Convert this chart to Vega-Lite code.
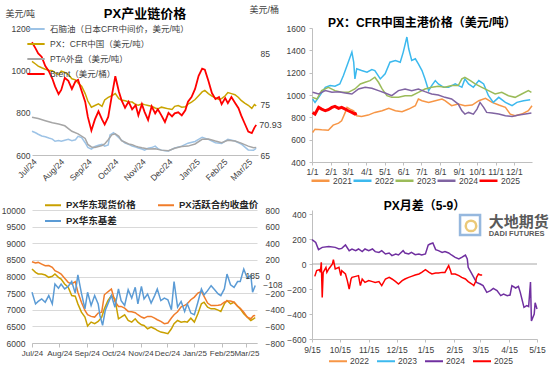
{
"$schema":"https://vega.github.io/schema/vega-lite/v6.json",
"padding":{"left":1,"top":5,"right":5,"bottom":5},
"datasets":{
"A":[
{"s":"N","d":"2024-07-01","v":712},{"s":"N","d":"2024-07-05","v":705},{"s":"N","d":"2024-07-08","v":698},{"s":"N","d":"2024-07-12","v":690},{"s":"N","d":"2024-07-16","v":686},{"s":"N","d":"2024-07-20","v":680},{"s":"N","d":"2024-07-24","v":675},{"s":"N","d":"2024-07-27","v":665},{"s":"N","d":"2024-07-31","v":668},{"s":"N","d":"2024-08-03","v":665},{"s":"N","d":"2024-08-07","v":670},{"s":"N","d":"2024-08-11","v":674},{"s":"N","d":"2024-08-15","v":668},{"s":"N","d":"2024-08-19","v":672},{"s":"N","d":"2024-08-22","v":688},{"s":"N","d":"2024-08-26","v":682},{"s":"N","d":"2024-08-30","v":658},{"s":"N","d":"2024-09-02","v":636},{"s":"N","d":"2024-09-06","v":628},{"s":"N","d":"2024-09-10","v":640},{"s":"N","d":"2024-09-14","v":646},{"s":"N","d":"2024-09-18","v":650},{"s":"N","d":"2024-09-21","v":642},{"s":"N","d":"2024-09-25","v":648},{"s":"N","d":"2024-09-27","v":695},{"s":"N","d":"2024-10-01","v":705},{"s":"N","d":"2024-10-07","v":682},{"s":"N","d":"2024-10-10","v":670},{"s":"N","d":"2024-10-14","v":656},{"s":"N","d":"2024-10-18","v":650},{"s":"N","d":"2024-10-22","v":642},{"s":"N","d":"2024-10-26","v":638},{"s":"N","d":"2024-10-29","v":633},{"s":"N","d":"2024-11-02","v":628},{"s":"N","d":"2024-11-05","v":623},{"s":"N","d":"2024-11-09","v":632},{"s":"N","d":"2024-11-13","v":635},{"s":"N","d":"2024-11-17","v":642},{"s":"N","d":"2024-11-20","v":630},{"s":"N","d":"2024-11-24","v":623},{"s":"N","d":"2024-11-28","v":620},{"s":"N","d":"2024-12-02","v":619},{"s":"N","d":"2024-12-09","v":633},{"s":"N","d":"2024-12-17","v":642},{"s":"N","d":"2024-12-24","v":656},{"s":"N","d":"2025-01-01","v":664},{"s":"N","d":"2025-01-09","v":684},{"s":"N","d":"2025-01-16","v":674},{"s":"N","d":"2025-01-24","v":658},{"s":"N","d":"2025-01-31","v":655},{"s":"N","d":"2025-02-07","v":674},{"s":"N","d":"2025-02-15","v":666},{"s":"N","d":"2025-02-22","v":652},{"s":"N","d":"2025-03-02","v":624},{"s":"N","d":"2025-03-08","v":622},{"s":"N","d":"2025-03-11","v":632},
{"s":"PTA","d":"2024-07-01","v":778},{"s":"PTA","d":"2024-07-08","v":772},{"s":"PTA","d":"2024-07-16","v":762},{"s":"PTA","d":"2024-07-24","v":752},{"s":"PTA","d":"2024-07-31","v":746},{"s":"PTA","d":"2024-08-07","v":738},{"s":"PTA","d":"2024-08-15","v":712},{"s":"PTA","d":"2024-08-22","v":700},{"s":"PTA","d":"2024-08-30","v":678},{"s":"PTA","d":"2024-09-02","v":650},{"s":"PTA","d":"2024-09-06","v":638},{"s":"PTA","d":"2024-09-10","v":635},{"s":"PTA","d":"2024-09-14","v":640},{"s":"PTA","d":"2024-09-18","v":645},{"s":"PTA","d":"2024-09-21","v":652},{"s":"PTA","d":"2024-09-25","v":672},{"s":"PTA","d":"2024-09-29","v":695},{"s":"PTA","d":"2024-10-03","v":700},{"s":"PTA","d":"2024-10-07","v":688},{"s":"PTA","d":"2024-10-10","v":668},{"s":"PTA","d":"2024-10-14","v":660},{"s":"PTA","d":"2024-10-18","v":652},{"s":"PTA","d":"2024-10-22","v":648},{"s":"PTA","d":"2024-10-26","v":642},{"s":"PTA","d":"2024-10-29","v":638},{"s":"PTA","d":"2024-11-02","v":634},{"s":"PTA","d":"2024-11-09","v":628},{"s":"PTA","d":"2024-11-17","v":630},{"s":"PTA","d":"2024-11-24","v":623},{"s":"PTA","d":"2024-12-02","v":620},{"s":"PTA","d":"2024-12-09","v":632},{"s":"PTA","d":"2024-12-17","v":640},{"s":"PTA","d":"2024-12-24","v":642},{"s":"PTA","d":"2025-01-01","v":652},{"s":"PTA","d":"2025-01-09","v":674},{"s":"PTA","d":"2025-01-16","v":676},{"s":"PTA","d":"2025-01-24","v":666},{"s":"PTA","d":"2025-01-31","v":658},{"s":"PTA","d":"2025-02-07","v":670},{"s":"PTA","d":"2025-02-15","v":666},{"s":"PTA","d":"2025-02-22","v":656},{"s":"PTA","d":"2025-03-02","v":642},{"s":"PTA","d":"2025-03-08","v":634},{"s":"PTA","d":"2025-03-11","v":636},
{"s":"PX","d":"2024-07-01","v":1042},{"s":"PX","d":"2024-07-05","v":1030},{"s":"PX","d":"2024-07-08","v":1020},{"s":"PX","d":"2024-07-12","v":1012},{"s":"PX","d":"2024-07-16","v":1005},{"s":"PX","d":"2024-07-20","v":1000},{"s":"PX","d":"2024-07-24","v":998},{"s":"PX","d":"2024-07-27","v":988},{"s":"PX","d":"2024-07-31","v":980},{"s":"PX","d":"2024-08-03","v":996},{"s":"PX","d":"2024-08-07","v":990},{"s":"PX","d":"2024-08-11","v":980},{"s":"PX","d":"2024-08-15","v":960},{"s":"PX","d":"2024-08-19","v":955},{"s":"PX","d":"2024-08-22","v":940},{"s":"PX","d":"2024-08-26","v":925},{"s":"PX","d":"2024-08-30","v":890},{"s":"PX","d":"2024-09-02","v":855},{"s":"PX","d":"2024-09-06","v":826},{"s":"PX","d":"2024-09-10","v":834},{"s":"PX","d":"2024-09-14","v":842},{"s":"PX","d":"2024-09-18","v":830},{"s":"PX","d":"2024-09-21","v":860},{"s":"PX","d":"2024-09-25","v":872},{"s":"PX","d":"2024-09-29","v":880},{"s":"PX","d":"2024-10-03","v":890},{"s":"PX","d":"2024-10-07","v":866},{"s":"PX","d":"2024-10-10","v":860},{"s":"PX","d":"2024-10-14","v":856},{"s":"PX","d":"2024-10-18","v":852},{"s":"PX","d":"2024-10-22","v":850},{"s":"PX","d":"2024-10-26","v":838},{"s":"PX","d":"2024-10-29","v":835},{"s":"PX","d":"2024-11-02","v":842},{"s":"PX","d":"2024-11-05","v":838},{"s":"PX","d":"2024-11-09","v":834},{"s":"PX","d":"2024-11-13","v":830},{"s":"PX","d":"2024-11-17","v":822},{"s":"PX","d":"2024-11-20","v":818},{"s":"PX","d":"2024-11-24","v":826},{"s":"PX","d":"2024-11-28","v":822},{"s":"PX","d":"2024-12-02","v":818},{"s":"PX","d":"2024-12-06","v":815},{"s":"PX","d":"2024-12-09","v":830},{"s":"PX","d":"2024-12-13","v":834},{"s":"PX","d":"2024-12-17","v":826},{"s":"PX","d":"2024-12-21","v":828},{"s":"PX","d":"2024-12-24","v":840},{"s":"PX","d":"2024-12-28","v":850},{"s":"PX","d":"2025-01-01","v":862},{"s":"PX","d":"2025-01-05","v":880},{"s":"PX","d":"2025-01-09","v":898},{"s":"PX","d":"2025-01-12","v":905},{"s":"PX","d":"2025-01-16","v":890},{"s":"PX","d":"2025-01-20","v":878},{"s":"PX","d":"2025-01-24","v":870},{"s":"PX","d":"2025-01-28","v":862},{"s":"PX","d":"2025-01-31","v":866},{"s":"PX","d":"2025-02-04","v":880},{"s":"PX","d":"2025-02-07","v":895},{"s":"PX","d":"2025-02-11","v":890},{"s":"PX","d":"2025-02-15","v":885},{"s":"PX","d":"2025-02-19","v":872},{"s":"PX","d":"2025-02-22","v":858},{"s":"PX","d":"2025-02-26","v":845},{"s":"PX","d":"2025-03-02","v":835},{"s":"PX","d":"2025-03-06","v":820},{"s":"PX","d":"2025-03-09","v":838},{"s":"PX","d":"2025-03-11","v":832},
{"s":"Brent","d":"2024-07-01","v":87.2},{"s":"Brent","d":"2024-07-05","v":86.0},{"s":"Brent","d":"2024-07-08","v":85.0},{"s":"Brent","d":"2024-07-12","v":84.3},{"s":"Brent","d":"2024-07-16","v":82.5},{"s":"Brent","d":"2024-07-20","v":81.5},{"s":"Brent","d":"2024-07-24","v":80.0},{"s":"Brent","d":"2024-07-27","v":78.5},{"s":"Brent","d":"2024-07-31","v":77.0},{"s":"Brent","d":"2024-08-03","v":77.8},{"s":"Brent","d":"2024-08-07","v":80.2},{"s":"Brent","d":"2024-08-11","v":79.6},{"s":"Brent","d":"2024-08-15","v":78.0},{"s":"Brent","d":"2024-08-19","v":79.5},{"s":"Brent","d":"2024-08-22","v":79.8},{"s":"Brent","d":"2024-08-26","v":77.6},{"s":"Brent","d":"2024-08-30","v":75.5},{"s":"Brent","d":"2024-09-02","v":72.5},{"s":"Brent","d":"2024-09-06","v":69.8},{"s":"Brent","d":"2024-09-10","v":72.0},{"s":"Brent","d":"2024-09-14","v":73.6},{"s":"Brent","d":"2024-09-18","v":72.0},{"s":"Brent","d":"2024-09-21","v":71.0},{"s":"Brent","d":"2024-09-25","v":72.5},{"s":"Brent","d":"2024-09-29","v":76.6},{"s":"Brent","d":"2024-10-03","v":80.5},{"s":"Brent","d":"2024-10-07","v":77.5},{"s":"Brent","d":"2024-10-10","v":75.8},{"s":"Brent","d":"2024-10-14","v":74.3},{"s":"Brent","d":"2024-10-18","v":75.5},{"s":"Brent","d":"2024-10-22","v":74.0},{"s":"Brent","d":"2024-10-26","v":74.8},{"s":"Brent","d":"2024-10-29","v":72.8},{"s":"Brent","d":"2024-11-02","v":75.0},{"s":"Brent","d":"2024-11-05","v":73.5},{"s":"Brent","d":"2024-11-09","v":71.9},{"s":"Brent","d":"2024-11-13","v":74.6},{"s":"Brent","d":"2024-11-17","v":73.2},{"s":"Brent","d":"2024-11-20","v":74.0},{"s":"Brent","d":"2024-11-24","v":72.8},{"s":"Brent","d":"2024-11-28","v":71.5},{"s":"Brent","d":"2024-12-02","v":73.3},{"s":"Brent","d":"2024-12-06","v":72.6},{"s":"Brent","d":"2024-12-09","v":73.2},{"s":"Brent","d":"2024-12-13","v":73.4},{"s":"Brent","d":"2024-12-17","v":72.8},{"s":"Brent","d":"2024-12-21","v":73.8},{"s":"Brent","d":"2024-12-24","v":75.5},{"s":"Brent","d":"2024-12-28","v":76.4},{"s":"Brent","d":"2025-01-01","v":78.0},{"s":"Brent","d":"2025-01-05","v":80.6},{"s":"Brent","d":"2025-01-09","v":82.0},{"s":"Brent","d":"2025-01-12","v":81.8},{"s":"Brent","d":"2025-01-16","v":79.6},{"s":"Brent","d":"2025-01-20","v":77.2},{"s":"Brent","d":"2025-01-24","v":76.0},{"s":"Brent","d":"2025-01-28","v":76.4},{"s":"Brent","d":"2025-01-31","v":75.0},{"s":"Brent","d":"2025-02-04","v":76.2},{"s":"Brent","d":"2025-02-07","v":75.2},{"s":"Brent","d":"2025-02-11","v":76.4},{"s":"Brent","d":"2025-02-15","v":75.3},{"s":"Brent","d":"2025-02-19","v":74.2},{"s":"Brent","d":"2025-02-22","v":72.8},{"s":"Brent","d":"2025-02-26","v":71.2},{"s":"Brent","d":"2025-03-02","v":69.6},{"s":"Brent","d":"2025-03-06","v":69.3},{"s":"Brent","d":"2025-03-09","v":70.4},{"s":"Brent","d":"2025-03-11","v":70.93}
],
"B":[
{"yr":"2021","d":"2001-01-02","v":664},{"yr":"2021","d":"2001-01-06","v":694},{"yr":"2021","d":"2001-01-17","v":688},{"yr":"2021","d":"2001-01-28","v":685},{"yr":"2021","d":"2001-02-05","v":730},{"yr":"2021","d":"2001-02-14","v":748},{"yr":"2021","d":"2001-02-19","v":769},{"yr":"2021","d":"2001-02-25","v":844},{"yr":"2021","d":"2001-02-28","v":889},{"yr":"2021","d":"2001-03-05","v":874},{"yr":"2021","d":"2001-03-11","v":859},{"yr":"2021","d":"2001-03-16","v":814},{"yr":"2021","d":"2001-03-24","v":808},{"yr":"2021","d":"2001-04-04","v":820},{"yr":"2021","d":"2001-04-15","v":844},{"yr":"2021","d":"2001-04-27","v":859},{"yr":"2021","d":"2001-05-08","v":880},{"yr":"2021","d":"2001-05-19","v":859},{"yr":"2021","d":"2001-05-30","v":850},{"yr":"2021","d":"2001-06-10","v":874},{"yr":"2021","d":"2001-06-21","v":904},{"yr":"2021","d":"2001-06-26","v":964},{"yr":"2021","d":"2001-07-02","v":949},{"yr":"2021","d":"2001-07-13","v":934},{"yr":"2021","d":"2001-07-24","v":949},{"yr":"2021","d":"2001-08-04","v":964},{"yr":"2021","d":"2001-08-09","v":949},{"yr":"2021","d":"2001-08-20","v":904},{"yr":"2021","d":"2001-08-31","v":919},{"yr":"2021","d":"2001-09-11","v":904},{"yr":"2021","d":"2001-09-23","v":910},{"yr":"2021","d":"2001-10-04","v":949},{"yr":"2021","d":"2001-10-15","v":970},{"yr":"2021","d":"2001-10-26","v":934},{"yr":"2021","d":"2001-11-06","v":910},{"yr":"2021","d":"2001-11-17","v":889},{"yr":"2021","d":"2001-11-25","v":829},{"yr":"2021","d":"2001-12-03","v":814},{"yr":"2021","d":"2001-12-14","v":829},{"yr":"2021","d":"2001-12-25","v":859},{"yr":"2021","d":"2001-12-31","v":904},
{"yr":"2022","d":"2001-01-02","v":964},{"yr":"2022","d":"2001-01-06","v":934},{"yr":"2022","d":"2001-01-14","v":994},{"yr":"2022","d":"2001-01-23","v":1069},{"yr":"2022","d":"2001-01-31","v":1084},{"yr":"2022","d":"2001-02-08","v":1078},{"yr":"2022","d":"2001-02-16","v":1099},{"yr":"2022","d":"2001-02-22","v":1174},{"yr":"2022","d":"2001-02-28","v":1264},{"yr":"2022","d":"2001-03-03","v":1309},{"yr":"2022","d":"2001-03-08","v":1384},{"yr":"2022","d":"2001-03-11","v":1294},{"yr":"2022","d":"2001-03-13","v":1144},{"yr":"2022","d":"2001-03-16","v":1234},{"yr":"2022","d":"2001-03-24","v":1219},{"yr":"2022","d":"2001-04-02","v":1204},{"yr":"2022","d":"2001-04-10","v":1228},{"yr":"2022","d":"2001-04-15","v":1219},{"yr":"2022","d":"2001-04-24","v":1144},{"yr":"2022","d":"2001-05-02","v":1189},{"yr":"2022","d":"2001-05-10","v":1294},{"yr":"2022","d":"2001-05-19","v":1309},{"yr":"2022","d":"2001-05-27","v":1294},{"yr":"2022","d":"2001-06-01","v":1384},{"yr":"2022","d":"2001-06-07","v":1519},{"yr":"2022","d":"2001-06-10","v":1414},{"yr":"2022","d":"2001-06-15","v":1309},{"yr":"2022","d":"2001-06-21","v":1324},{"yr":"2022","d":"2001-06-26","v":1279},{"yr":"2022","d":"2001-07-02","v":1219},{"yr":"2022","d":"2001-07-07","v":1144},{"yr":"2022","d":"2001-07-13","v":1039},{"yr":"2022","d":"2001-07-18","v":1084},{"yr":"2022","d":"2001-07-24","v":1129},{"yr":"2022","d":"2001-07-29","v":1099},{"yr":"2022","d":"2001-08-07","v":1069},{"yr":"2022","d":"2001-08-15","v":1069},{"yr":"2022","d":"2001-08-26","v":1099},{"yr":"2022","d":"2001-09-06","v":1069},{"yr":"2022","d":"2001-09-11","v":1144},{"yr":"2022","d":"2001-09-17","v":1099},{"yr":"2022","d":"2001-09-25","v":1069},{"yr":"2022","d":"2001-10-04","v":1129},{"yr":"2022","d":"2001-10-12","v":1099},{"yr":"2022","d":"2001-10-20","v":994},{"yr":"2022","d":"2001-10-28","v":934},{"yr":"2022","d":"2001-11-06","v":979},{"yr":"2022","d":"2001-11-17","v":934},{"yr":"2022","d":"2001-11-28","v":904},{"yr":"2022","d":"2001-12-06","v":934},{"yr":"2022","d":"2001-12-17","v":949},{"yr":"2022","d":"2001-12-28","v":958},
{"yr":"2023","d":"2001-01-02","v":979},{"yr":"2023","d":"2001-01-09","v":964},{"yr":"2023","d":"2001-01-17","v":1039},{"yr":"2023","d":"2001-01-28","v":1069},{"yr":"2023","d":"2001-02-08","v":1039},{"yr":"2023","d":"2001-02-19","v":1024},{"yr":"2023","d":"2001-03-02","v":1024},{"yr":"2023","d":"2001-03-13","v":1054},{"yr":"2023","d":"2001-03-22","v":1099},{"yr":"2023","d":"2001-03-30","v":1114},{"yr":"2023","d":"2001-04-07","v":1129},{"yr":"2023","d":"2001-04-15","v":1159},{"yr":"2023","d":"2001-04-21","v":1114},{"yr":"2023","d":"2001-04-27","v":1054},{"yr":"2023","d":"2001-05-05","v":994},{"yr":"2023","d":"2001-05-13","v":979},{"yr":"2023","d":"2001-05-24","v":979},{"yr":"2023","d":"2001-06-04","v":994},{"yr":"2023","d":"2001-06-15","v":994},{"yr":"2023","d":"2001-06-26","v":1024},{"yr":"2023","d":"2001-07-07","v":1054},{"yr":"2023","d":"2001-07-18","v":1069},{"yr":"2023","d":"2001-07-29","v":1078},{"yr":"2023","d":"2001-08-09","v":1069},{"yr":"2023","d":"2001-08-20","v":1084},{"yr":"2023","d":"2001-08-31","v":1084},{"yr":"2023","d":"2001-09-06","v":1144},{"yr":"2023","d":"2001-09-11","v":1159},{"yr":"2023","d":"2001-09-20","v":1129},{"yr":"2023","d":"2001-09-28","v":1099},{"yr":"2023","d":"2001-10-09","v":1069},{"yr":"2023","d":"2001-10-20","v":1039},{"yr":"2023","d":"2001-10-31","v":1009},{"yr":"2023","d":"2001-11-11","v":1024},{"yr":"2023","d":"2001-11-22","v":994},{"yr":"2023","d":"2001-12-03","v":979},{"yr":"2023","d":"2001-12-14","v":1009},{"yr":"2023","d":"2001-12-25","v":1039},{"yr":"2023","d":"2001-12-30","v":1024},
{"yr":"2024","d":"2001-01-02","v":1024},{"yr":"2024","d":"2001-01-12","v":1009},{"yr":"2024","d":"2001-01-23","v":1039},{"yr":"2024","d":"2001-02-03","v":1024},{"yr":"2024","d":"2001-02-14","v":1030},{"yr":"2024","d":"2001-02-25","v":1018},{"yr":"2024","d":"2001-03-08","v":1009},{"yr":"2024","d":"2001-03-19","v":1054},{"yr":"2024","d":"2001-03-30","v":1069},{"yr":"2024","d":"2001-04-10","v":1060},{"yr":"2024","d":"2001-04-21","v":1039},{"yr":"2024","d":"2001-05-02","v":1018},{"yr":"2024","d":"2001-05-13","v":994},{"yr":"2024","d":"2001-05-24","v":1039},{"yr":"2024","d":"2001-06-04","v":1054},{"yr":"2024","d":"2001-06-15","v":1039},{"yr":"2024","d":"2001-06-26","v":1054},{"yr":"2024","d":"2001-07-07","v":1030},{"yr":"2024","d":"2001-07-18","v":1009},{"yr":"2024","d":"2001-07-29","v":1000},{"yr":"2024","d":"2001-08-09","v":979},{"yr":"2024","d":"2001-08-20","v":964},{"yr":"2024","d":"2001-08-31","v":919},{"yr":"2024","d":"2001-09-06","v":859},{"yr":"2024","d":"2001-09-11","v":829},{"yr":"2024","d":"2001-09-17","v":844},{"yr":"2024","d":"2001-09-25","v":829},{"yr":"2024","d":"2001-10-01","v":874},{"yr":"2024","d":"2001-10-06","v":934},{"yr":"2024","d":"2001-10-12","v":889},{"yr":"2024","d":"2001-10-17","v":844},{"yr":"2024","d":"2001-10-26","v":838},{"yr":"2024","d":"2001-11-06","v":829},{"yr":"2024","d":"2001-11-17","v":814},{"yr":"2024","d":"2001-11-28","v":808},{"yr":"2024","d":"2001-12-09","v":820},{"yr":"2024","d":"2001-12-20","v":829},{"yr":"2024","d":"2001-12-30","v":838},
{"yr":"2025","d":"2001-01-02","v":844},{"yr":"2025","d":"2001-01-06","v":829},{"yr":"2025","d":"2001-01-12","v":889},{"yr":"2025","d":"2001-01-17","v":874},{"yr":"2025","d":"2001-01-23","v":859},{"yr":"2025","d":"2001-01-28","v":868},{"yr":"2025","d":"2001-02-03","v":889},{"yr":"2025","d":"2001-02-08","v":898},{"yr":"2025","d":"2001-02-14","v":880},{"yr":"2025","d":"2001-02-19","v":889},{"yr":"2025","d":"2001-02-25","v":874},{"yr":"2025","d":"2001-03-02","v":859},{"yr":"2025","d":"2001-03-08","v":844},{"yr":"2025","d":"2001-03-13","v":829},{"yr":"2025","d":"2001-03-16","v":838}
],
"C":[
{"s":"PX华东现货价格","d":"2024-07-01","v":8224},{"s":"PX华东现货价格","d":"2024-07-05","v":8125},{"s":"PX华东现货价格","d":"2024-07-08","v":8075},{"s":"PX华东现货价格","d":"2024-07-12","v":8075},{"s":"PX华东现货价格","d":"2024-07-16","v":8045},{"s":"PX华东现货价格","d":"2024-07-20","v":7975},{"s":"PX华东现货价格","d":"2024-07-24","v":8005},{"s":"PX华东现货价格","d":"2024-07-27","v":8075},{"s":"PX华东现货价格","d":"2024-07-31","v":7975},{"s":"PX华东现货价格","d":"2024-08-03","v":7925},{"s":"PX华东现货价格","d":"2024-08-07","v":7775},{"s":"PX华东现货价格","d":"2024-08-11","v":7676},{"s":"PX华东现货价格","d":"2024-08-15","v":7426},{"s":"PX华东现货价格","d":"2024-08-19","v":7406},{"s":"PX华东现货价格","d":"2024-08-22","v":7177},{"s":"PX华东现货价格","d":"2024-08-26","v":6928},{"s":"PX华东现货价格","d":"2024-08-30","v":6778},{"s":"PX华东现货价格","d":"2024-09-02","v":6510},{"s":"PX华东现货价格","d":"2024-09-06","v":6628},{"s":"PX华东现货价格","d":"2024-09-10","v":6579},{"s":"PX华东现货价格","d":"2024-09-14","v":6648},{"s":"PX华东现货价格","d":"2024-09-18","v":6778},{"s":"PX华东现货价格","d":"2024-09-21","v":7027},{"s":"PX华东现货价格","d":"2024-09-25","v":7277},{"s":"PX华东现货价格","d":"2024-09-29","v":7426},{"s":"PX华东现货价格","d":"2024-10-03","v":7327},{"s":"PX华东现货价格","d":"2024-10-07","v":6728},{"s":"PX华东现货价格","d":"2024-10-10","v":6778},{"s":"PX华东现货价格","d":"2024-10-14","v":6848},{"s":"PX华东现货价格","d":"2024-10-18","v":6678},{"s":"PX华东现货价格","d":"2024-10-22","v":6628},{"s":"PX华东现货价格","d":"2024-10-26","v":6728},{"s":"PX华东现货价格","d":"2024-10-29","v":6628},{"s":"PX华东现货价格","d":"2024-11-02","v":6549},{"s":"PX华东现货价格","d":"2024-11-05","v":6529},{"s":"PX华东现货价格","d":"2024-11-09","v":6429},{"s":"PX华东现货价格","d":"2024-11-13","v":6479},{"s":"PX华东现货价格","d":"2024-11-17","v":6429},{"s":"PX华东现货价格","d":"2024-11-20","v":6379},{"s":"PX华东现货价格","d":"2024-11-24","v":6329},{"s":"PX华东现货价格","d":"2024-11-28","v":6309},{"s":"PX华东现货价格","d":"2024-12-02","v":6279},{"s":"PX华东现货价格","d":"2024-12-06","v":6429},{"s":"PX华东现货价格","d":"2024-12-09","v":6579},{"s":"PX华东现货价格","d":"2024-12-13","v":6678},{"s":"PX华东现货价格","d":"2024-12-17","v":6628},{"s":"PX华东现货价格","d":"2024-12-21","v":6648},{"s":"PX华东现货价格","d":"2024-12-24","v":6628},{"s":"PX华东现货价格","d":"2024-12-28","v":6748},{"s":"PX华东现货价格","d":"2025-01-01","v":6628},{"s":"PX华东现货价格","d":"2025-01-05","v":6878},{"s":"PX华东现货价格","d":"2025-01-09","v":7177},{"s":"PX华东现货价格","d":"2025-01-12","v":7227},{"s":"PX华东现货价格","d":"2025-01-16","v":7077},{"s":"PX华东现货价格","d":"2025-01-20","v":7027},{"s":"PX华东现货价格","d":"2025-01-24","v":7027},{"s":"PX华东现货价格","d":"2025-01-28","v":6990},{"s":"PX华东现货价格","d":"2025-01-31","v":6948},{"s":"PX华东现货价格","d":"2025-02-04","v":7177},{"s":"PX华东现货价格","d":"2025-02-07","v":7277},{"s":"PX华东现货价格","d":"2025-02-11","v":7177},{"s":"PX华东现货价格","d":"2025-02-15","v":7227},{"s":"PX华东现货价格","d":"2025-02-19","v":7107},{"s":"PX华东现货价格","d":"2025-02-22","v":7027},{"s":"PX华东现货价格","d":"2025-02-26","v":6878},{"s":"PX华东现货价格","d":"2025-03-02","v":6778},{"s":"PX华东现货价格","d":"2025-03-06","v":6678},{"s":"PX华东现货价格","d":"2025-03-09","v":6728},{"s":"PX华东现货价格","d":"2025-03-11","v":6760},
{"s":"PX活跃合约收盘价","d":"2024-07-01","v":8444},{"s":"PX活跃合约收盘价","d":"2024-07-05","v":8404},{"s":"PX活跃合约收盘价","d":"2024-07-08","v":8424},{"s":"PX活跃合约收盘价","d":"2024-07-12","v":8374},{"s":"PX活跃合约收盘价","d":"2024-07-16","v":8324},{"s":"PX活跃合约收盘价","d":"2024-07-20","v":8330},{"s":"PX活跃合约收盘价","d":"2024-07-24","v":8274},{"s":"PX活跃合约收盘价","d":"2024-07-27","v":8175},{"s":"PX活跃合约收盘价","d":"2024-07-31","v":8125},{"s":"PX活跃合约收盘价","d":"2024-08-03","v":8075},{"s":"PX活跃合约收盘价","d":"2024-08-07","v":7945},{"s":"PX活跃合约收盘价","d":"2024-08-11","v":7825},{"s":"PX活跃合约收盘价","d":"2024-08-15","v":7776},{"s":"PX活跃合约收盘价","d":"2024-08-19","v":7845},{"s":"PX活跃合约收盘价","d":"2024-08-22","v":7526},{"s":"PX活跃合约收盘价","d":"2024-08-26","v":7227},{"s":"PX活跃合约收盘价","d":"2024-08-30","v":6978},{"s":"PX活跃合约收盘价","d":"2024-09-02","v":6850},{"s":"PX活跃合约收盘价","d":"2024-09-06","v":6800},{"s":"PX活跃合约收盘价","d":"2024-09-10","v":6780},{"s":"PX活跃合约收盘价","d":"2024-09-14","v":6900},{"s":"PX活跃合约收盘价","d":"2024-09-18","v":6928},{"s":"PX活跃合约收盘价","d":"2024-09-21","v":7450},{"s":"PX活跃合约收盘价","d":"2024-09-25","v":7540},{"s":"PX活跃合约收盘价","d":"2024-09-29","v":7626},{"s":"PX活跃合约收盘价","d":"2024-10-03","v":7250},{"s":"PX活跃合约收盘价","d":"2024-10-07","v":7100},{"s":"PX活跃合约收盘价","d":"2024-10-10","v":7100},{"s":"PX活跃合约收盘价","d":"2024-10-14","v":7050},{"s":"PX活跃合约收盘价","d":"2024-10-18","v":6950},{"s":"PX活跃合约收盘价","d":"2024-10-22","v":6938},{"s":"PX活跃合约收盘价","d":"2024-10-26","v":6910},{"s":"PX活跃合约收盘价","d":"2024-10-29","v":6850},{"s":"PX活跃合约收盘价","d":"2024-11-02","v":6780},{"s":"PX活跃合约收盘价","d":"2024-11-05","v":6750},{"s":"PX活跃合约收盘价","d":"2024-11-09","v":6800},{"s":"PX活跃合约收盘价","d":"2024-11-13","v":6800},{"s":"PX活跃合约收盘价","d":"2024-11-17","v":6750},{"s":"PX活跃合约收盘价","d":"2024-11-20","v":6700},{"s":"PX活跃合约收盘价","d":"2024-11-24","v":6650},{"s":"PX活跃合约收盘价","d":"2024-11-28","v":6580},{"s":"PX活跃合约收盘价","d":"2024-12-02","v":6600},{"s":"PX活跃合约收盘价","d":"2024-12-06","v":6750},{"s":"PX活跃合约收盘价","d":"2024-12-09","v":6850},{"s":"PX活跃合约收盘价","d":"2024-12-13","v":6940},{"s":"PX活跃合约收盘价","d":"2024-12-17","v":7090},{"s":"PX活跃合约收盘价","d":"2024-12-21","v":7130},{"s":"PX活跃合约收盘价","d":"2024-12-24","v":7180},{"s":"PX活跃合约收盘价","d":"2024-12-28","v":7300},{"s":"PX活跃合约收盘价","d":"2025-01-01","v":7380},{"s":"PX活跃合约收盘价","d":"2025-01-05","v":7500},{"s":"PX活跃合约收盘价","d":"2025-01-09","v":7550},{"s":"PX活跃合约收盘价","d":"2025-01-12","v":7400},{"s":"PX活跃合约收盘价","d":"2025-01-16","v":7200},{"s":"PX活跃合约收盘价","d":"2025-01-20","v":7127},{"s":"PX活跃合约收盘价","d":"2025-01-24","v":7127},{"s":"PX活跃合约收盘价","d":"2025-01-28","v":7137},{"s":"PX活跃合约收盘价","d":"2025-01-31","v":7147},{"s":"PX活跃合约收盘价","d":"2025-02-04","v":7227},{"s":"PX活跃合约收盘价","d":"2025-02-07","v":7260},{"s":"PX活跃合约收盘价","d":"2025-02-11","v":7260},{"s":"PX活跃合约收盘价","d":"2025-02-15","v":7227},{"s":"PX活跃合约收盘价","d":"2025-02-19","v":7107},{"s":"PX活跃合约收盘价","d":"2025-02-22","v":7047},{"s":"PX活跃合约收盘价","d":"2025-02-26","v":6928},{"s":"PX活跃合约收盘价","d":"2025-03-02","v":6778},{"s":"PX活跃合约收盘价","d":"2025-03-06","v":6728},{"s":"PX活跃合约收盘价","d":"2025-03-09","v":6820},{"s":"PX活跃合约收盘价","d":"2025-03-11","v":6830},
{"s":"PX华东基差","d":"2024-07-01","v":-190},{"s":"PX华东基差","d":"2024-07-05","v":-330},{"s":"PX华东基差","d":"2024-07-08","v":-300},{"s":"PX华东基差","d":"2024-07-12","v":-269},{"s":"PX华东基差","d":"2024-07-16","v":-309},{"s":"PX华东基差","d":"2024-07-20","v":-229},{"s":"PX华东基差","d":"2024-07-24","v":-330},{"s":"PX华东基差","d":"2024-07-27","v":-90},{"s":"PX华东基差","d":"2024-07-31","v":-140},{"s":"PX华东基差","d":"2024-08-03","v":-90},{"s":"PX华东基差","d":"2024-08-07","v":-150},{"s":"PX华东基差","d":"2024-08-11","v":-120},{"s":"PX华东基差","d":"2024-08-15","v":-60},{"s":"PX华东基差","d":"2024-08-19","v":-200},{"s":"PX华东基差","d":"2024-08-22","v":20},{"s":"PX华东基差","d":"2024-08-26","v":-200},{"s":"PX华东基差","d":"2024-08-30","v":-389},{"s":"PX华东基差","d":"2024-09-02","v":-190},{"s":"PX华东基差","d":"2024-09-06","v":-349},{"s":"PX华东基差","d":"2024-09-10","v":-229},{"s":"PX华东基差","d":"2024-09-14","v":-329},{"s":"PX华东基差","d":"2024-09-16","v":-469},{"s":"PX华东基差","d":"2024-09-19","v":-588},{"s":"PX华东基差","d":"2024-09-22","v":-409},{"s":"PX华东基差","d":"2024-09-25","v":-329},{"s":"PX华东基差","d":"2024-09-29","v":-229},{"s":"PX华东基差","d":"2024-10-03","v":-369},{"s":"PX华东基差","d":"2024-10-07","v":-150},{"s":"PX华东基差","d":"2024-10-10","v":-290},{"s":"PX华东基差","d":"2024-10-14","v":-349},{"s":"PX华东基差","d":"2024-10-18","v":-160},{"s":"PX华东基差","d":"2024-10-22","v":-260},{"s":"PX华东基差","d":"2024-10-26","v":-130},{"s":"PX华东基差","d":"2024-10-29","v":-329},{"s":"PX华东基差","d":"2024-11-02","v":-120},{"s":"PX华东基差","d":"2024-11-05","v":-270},{"s":"PX华东基差","d":"2024-11-09","v":-210},{"s":"PX华东基差","d":"2024-11-13","v":-320},{"s":"PX华东基差","d":"2024-11-17","v":-230},{"s":"PX华东基差","d":"2024-11-20","v":-150},{"s":"PX华东基差","d":"2024-11-24","v":-290},{"s":"PX华东基差","d":"2024-11-28","v":-260},{"s":"PX华东基差","d":"2024-12-02","v":-280},{"s":"PX华东基差","d":"2024-12-06","v":-400},{"s":"PX华东基差","d":"2024-12-09","v":-60},{"s":"PX华东基差","d":"2024-12-13","v":-369},{"s":"PX华东基差","d":"2024-12-17","v":-300},{"s":"PX华东基差","d":"2024-12-21","v":-420},{"s":"PX华东基差","d":"2024-12-24","v":-329},{"s":"PX华东基差","d":"2024-12-28","v":-440},{"s":"PX华东基差","d":"2025-01-01","v":-460},{"s":"PX华东基差","d":"2025-01-05","v":-309},{"s":"PX华东基差","d":"2025-01-09","v":-150},{"s":"PX华东基差","d":"2025-01-12","v":-220},{"s":"PX华东基差","d":"2025-01-16","v":-170},{"s":"PX华东基差","d":"2025-01-20","v":-110},{"s":"PX华东基差","d":"2025-01-24","v":-160},{"s":"PX华东基差","d":"2025-01-28","v":-210},{"s":"PX华东基差","d":"2025-01-31","v":-230},{"s":"PX华东基差","d":"2025-02-04","v":-150},{"s":"PX华东基差","d":"2025-02-07","v":30},{"s":"PX华东基差","d":"2025-02-11","v":-100},{"s":"PX华东基差","d":"2025-02-15","v":-130},{"s":"PX华东基差","d":"2025-02-19","v":-60},{"s":"PX华东基差","d":"2025-02-22","v":-60},{"s":"PX华东基差","d":"2025-02-26","v":90},{"s":"PX华东基差","d":"2025-03-02","v":-20},{"s":"PX华东基差","d":"2025-03-06","v":15},{"s":"PX华东基差","d":"2025-03-08","v":-190},{"s":"PX华东基差","d":"2025-03-11","v":-108}
],
"D":[
{"yr":"2024","d":"2000-09-15","v":195},{"yr":"2024","d":"2000-09-19","v":173},{"yr":"2024","d":"2000-09-22","v":115},{"yr":"2024","d":"2000-09-26","v":133},{"yr":"2024","d":"2000-10-03","v":139},{"yr":"2024","d":"2000-10-10","v":133},{"yr":"2024","d":"2000-10-14","v":120},{"yr":"2024","d":"2000-10-17","v":125},{"yr":"2024","d":"2000-10-21","v":152},{"yr":"2024","d":"2000-10-25","v":107},{"yr":"2024","d":"2000-10-28","v":120},{"yr":"2024","d":"2000-11-01","v":107},{"yr":"2024","d":"2000-11-04","v":120},{"yr":"2024","d":"2000-11-08","v":99},{"yr":"2024","d":"2000-11-11","v":120},{"yr":"2024","d":"2000-11-15","v":107},{"yr":"2024","d":"2000-11-19","v":120},{"yr":"2024","d":"2000-11-22","v":99},{"yr":"2024","d":"2000-11-26","v":93},{"yr":"2024","d":"2000-11-29","v":107},{"yr":"2024","d":"2000-12-03","v":80},{"yr":"2024","d":"2000-12-07","v":88},{"yr":"2024","d":"2000-12-10","v":67},{"yr":"2024","d":"2000-12-14","v":80},{"yr":"2024","d":"2000-12-17","v":72},{"yr":"2024","d":"2000-12-22","v":107},{"yr":"2024","d":"2000-12-24","v":88},{"yr":"2024","d":"2000-12-28","v":80},{"yr":"2024","d":"2000-12-31","v":93},{"yr":"2024","d":"2001-01-04","v":75},{"yr":"2024","d":"2001-01-08","v":80},{"yr":"2024","d":"2001-01-11","v":72},{"yr":"2024","d":"2001-01-15","v":80},{"yr":"2024","d":"2001-01-18","v":152},{"yr":"2024","d":"2001-01-20","v":160},{"yr":"2024","d":"2001-01-23","v":168},{"yr":"2024","d":"2001-01-26","v":115},{"yr":"2024","d":"2001-01-29","v":107},{"yr":"2024","d":"2001-02-02","v":93},{"yr":"2024","d":"2001-02-05","v":99},{"yr":"2024","d":"2001-02-09","v":88},{"yr":"2024","d":"2001-02-12","v":72},{"yr":"2024","d":"2001-02-16","v":53},{"yr":"2024","d":"2001-02-20","v":40},{"yr":"2024","d":"2001-02-23","v":53},{"yr":"2024","d":"2001-02-27","v":72},{"yr":"2024","d":"2001-03-01","v":40},{"yr":"2024","d":"2001-03-02","v":-27},{"yr":"2024","d":"2001-03-04","v":-53},{"yr":"2024","d":"2001-03-08","v":-107},{"yr":"2024","d":"2001-03-11","v":-147},{"yr":"2024","d":"2001-03-15","v":-160},{"yr":"2024","d":"2001-03-18","v":-173},{"yr":"2024","d":"2001-03-22","v":-227},{"yr":"2024","d":"2001-03-26","v":-213},{"yr":"2024","d":"2001-03-29","v":-195},{"yr":"2024","d":"2001-04-02","v":-213},{"yr":"2024","d":"2001-04-06","v":-253},{"yr":"2024","d":"2001-04-09","v":-240},{"yr":"2024","d":"2001-04-13","v":-253},{"yr":"2024","d":"2001-04-16","v":-248},{"yr":"2024","d":"2001-04-18","v":-173},{"yr":"2024","d":"2001-04-22","v":-192},{"yr":"2024","d":"2001-04-25","v":-179},{"yr":"2024","d":"2001-04-27","v":-227},{"yr":"2024","d":"2001-05-01","v":-347},{"yr":"2024","d":"2001-05-04","v":-333},{"yr":"2024","d":"2001-05-06","v":-340},{"yr":"2024","d":"2001-05-08","v":-144},{"yr":"2024","d":"2001-05-09","v":-456},{"yr":"2024","d":"2001-05-12","v":-400},{"yr":"2024","d":"2001-05-13","v":-310},{"yr":"2024","d":"2001-05-15","v":-360},
{"yr":"2025","d":"2000-09-18","v":-99},{"yr":"2025","d":"2000-09-20","v":-53},{"yr":"2025","d":"2000-09-23","v":-45},{"yr":"2025","d":"2000-09-24","v":-67},{"yr":"2025","d":"2000-09-25","v":13},{"yr":"2025","d":"2000-09-26","v":-267},{"yr":"2025","d":"2000-09-27","v":-67},{"yr":"2025","d":"2000-09-30","v":-27},{"yr":"2025","d":"2000-10-01","v":-67},{"yr":"2025","d":"2000-10-03","v":-40},{"yr":"2025","d":"2000-10-07","v":0},{"yr":"2025","d":"2000-10-08","v":35},{"yr":"2025","d":"2000-10-10","v":-40},{"yr":"2025","d":"2000-10-14","v":-27},{"yr":"2025","d":"2000-10-16","v":-93},{"yr":"2025","d":"2000-10-17","v":-53},{"yr":"2025","d":"2000-10-21","v":-80},{"yr":"2025","d":"2000-10-23","v":-133},{"yr":"2025","d":"2000-10-25","v":-200},{"yr":"2025","d":"2000-10-27","v":-120},{"yr":"2025","d":"2000-10-28","v":-107},{"yr":"2025","d":"2000-11-01","v":-99},{"yr":"2025","d":"2000-11-04","v":-93},{"yr":"2025","d":"2000-11-06","v":-173},{"yr":"2025","d":"2000-11-08","v":-120},{"yr":"2025","d":"2000-11-11","v":-147},{"yr":"2025","d":"2000-11-15","v":-133},{"yr":"2025","d":"2000-11-19","v":-141},{"yr":"2025","d":"2000-11-22","v":-147},{"yr":"2025","d":"2000-11-26","v":-141},{"yr":"2025","d":"2000-11-29","v":-173},{"yr":"2025","d":"2000-12-03","v":-120},{"yr":"2025","d":"2000-12-07","v":-107},{"yr":"2025","d":"2000-12-10","v":-120},{"yr":"2025","d":"2000-12-14","v":-141},{"yr":"2025","d":"2000-12-17","v":-160},{"yr":"2025","d":"2000-12-21","v":-133},{"yr":"2025","d":"2000-12-24","v":-120},{"yr":"2025","d":"2000-12-28","v":-107},{"yr":"2025","d":"2000-12-31","v":-99},{"yr":"2025","d":"2001-01-04","v":-88},{"yr":"2025","d":"2001-01-08","v":-80},{"yr":"2025","d":"2001-01-11","v":-67},{"yr":"2025","d":"2001-01-15","v":-45},{"yr":"2025","d":"2001-01-19","v":-67},{"yr":"2025","d":"2001-01-22","v":-80},{"yr":"2025","d":"2001-01-26","v":-72},{"yr":"2025","d":"2001-01-29","v":-72},{"yr":"2025","d":"2001-02-02","v":-67},{"yr":"2025","d":"2001-02-05","v":-67},{"yr":"2025","d":"2001-02-09","v":-13},{"yr":"2025","d":"2001-02-11","v":-53},{"yr":"2025","d":"2001-02-12","v":-80},{"yr":"2025","d":"2001-02-16","v":-80},{"yr":"2025","d":"2001-02-20","v":-93},{"yr":"2025","d":"2001-02-23","v":-107},{"yr":"2025","d":"2001-02-27","v":-120},{"yr":"2025","d":"2001-03-02","v":-141},{"yr":"2025","d":"2001-03-06","v":-160},{"yr":"2025","d":"2001-03-08","v":-173},{"yr":"2025","d":"2001-03-10","v":-141},{"yr":"2025","d":"2001-03-11","v":-107},{"yr":"2025","d":"2001-03-13","v":-80},{"yr":"2025","d":"2001-03-15","v":-88},{"yr":"2025","d":"2001-03-17","v":-88}
]
},
"columns":2,
"spacing":{"row":48,"column":54},
"bounds":"flush",
"align":"each",
"resolve":{"scale":{"color":"independent"},"legend":{"color":"independent"}},
"concat":[
{"width":226,"height":127,
"title":{"text":"PX产业链价格","fontSize":13,"anchor":"middle","offset":2,"dy":18},
"layer":[
{"data":{"name":"A"},"transform":[{"filter":"datum.s != 'Brent'"}],"mark":{"type":"line","strokeWidth":1.5},
"encoding":{
"x":{"field":"d","type":"temporal","scale":{"type":"utc","domain":[{"year":2024,"month":7,"date":1,"utc":true},{"year":2025,"month":3,"date":13,"utc":true}]},
"axis":{"title":null,"tickCount":40,"values":[{"year":2024,"month":7,"date":1,"utc":true},{"year":2024,"month":8,"date":1,"utc":true},{"year":2024,"month":9,"date":1,"utc":true},{"year":2024,"month":10,"date":1,"utc":true},{"year":2024,"month":11,"date":1,"utc":true},{"year":2024,"month":12,"date":1,"utc":true},{"year":2025,"month":1,"date":1,"utc":true},{"year":2025,"month":2,"date":1,"utc":true},{"year":2025,"month":3,"date":1,"utc":true}],"format":"%b/%y","labelAngle":-45,"ticks":false,"labelPadding":2,"labelOverlap":false}},
"y":{"field":"v","type":"quantitative","scale":{"domain":[600,1200],"nice":false,"zero":false},
"axis":{"tickCount":40,"values":[600,800,1000,1200],"format":"d","domain":false,"ticks":false,"labelPadding":2,"title":"美元/吨","titleAngle":0,"titleX":-27,"titleY":-15,"titleAlign":"left","titleBaseline":"middle"}},
"color":{"field":"s","type":"nominal","scale":{"domain":["N","PX","PTA","Brent"],"range":["#9DC3E6","#C9A400","#A6A6A6","#FF0000"]},
"legend":{"orient":"none","legendX":-6,"legendY":-9,"title":null,"symbolSize":300,"rowPadding":0,"labelFontSize":8.5,"labelExpr":"datum.label == 'N' ? '石脑油（日本CFR中间价，美元/吨）' : datum.label == 'PX' ? 'PX：CFR中国（美元/吨）' : datum.label == 'PTA' ? 'PTA外盘（美元/吨）' : 'Brent（美元/桶）'"}}
}},
{"layer":[
{"data":{"name":"A"},"transform":[{"filter":"datum.s == 'Brent'"}],"mark":{"type":"line","strokeWidth":1.8},
"encoding":{"x":{"field":"d","type":"temporal"},
"y":{"field":"v","type":"quantitative","scale":{"domain":[65,90],"nice":false,"zero":false},
"axis":{"orient":"right","tickCount":40,"values":[65,75,85],"format":"d","domain":false,"ticks":false,"labelPadding":2,"title":"美元/桶","titleAngle":0,"titleX":-9,"titleY":-19,"titleAlign":"left","titleBaseline":"middle"}},
"color":{"field":"s","type":"nominal"}}},
{"data":{"name":"A"},"transform":[{"filter":"datum.s == 'Brent' && datum.v == 70.93"}],"mark":{"type":"text","align":"left","dx":3,"fontSize":9,"color":"#404040"},
"encoding":{"x":{"field":"d","type":"temporal"},"y":{"field":"v","type":"quantitative"},"text":{"field":"v","type":"quantitative","format":".2f"}}}
]}
],
"resolve":{"scale":{"y":"independent"}}
},
{"width":220,"height":134,
"title":{"text":"PX：CFR中国主港价格（美元/吨）","fontSize":12,"anchor":"middle","offset":2,"dy":8},
"layer":[
{"data":{"name":"B"},"transform":[{"filter":"datum.yr != '2025'"}],"mark":{"type":"line","strokeWidth":1.5},
"encoding":{
"x":{"field":"d","type":"temporal","scale":{"type":"utc","domain":[{"year":2001,"month":1,"date":1,"utc":true},{"year":2001,"month":12,"date":31,"utc":true}]},
"axis":{"title":null,"tickCount":40,"values":[{"year":2001,"month":1,"date":1,"utc":true},{"year":2001,"month":2,"date":1,"utc":true},{"year":2001,"month":3,"date":1,"utc":true},{"year":2001,"month":4,"date":1,"utc":true},{"year":2001,"month":5,"date":1,"utc":true},{"year":2001,"month":6,"date":1,"utc":true},{"year":2001,"month":7,"date":1,"utc":true},{"year":2001,"month":8,"date":1,"utc":true},{"year":2001,"month":9,"date":1,"utc":true},{"year":2001,"month":10,"date":1,"utc":true},{"year":2001,"month":11,"date":1,"utc":true},{"year":2001,"month":12,"date":1,"utc":true}],"format":"%-m/%-d","labelAngle":0,"tickSize":3,"labelPadding":2,"labelOverlap":false}},
"y":{"field":"v","type":"quantitative","scale":{"domain":[400,1600],"nice":false,"zero":false},
"axis":{"title":null,"tickCount":40,"values":[400,600,800,1000,1200,1400,1600],"format":"d","tickSize":3,"labelPadding":4,"labelOverlap":false}},
"color":{"field":"yr","type":"nominal","scale":{"domain":["2021","2022","2023","2024","2025"],"range":["#F79646","#3CB9EE","#9BBB59","#8064A2","#FF0000"]},
"legend":{"orient":"none","direction":"horizontal","legendX":-2,"legendY":142,"title":null,"symbolSize":324,"symbolStrokeWidth":2.5,"labelOffset":2,"columnPadding":-4,"labelFontSize":8.5}}
}},
{"data":{"name":"B"},"transform":[{"filter":"datum.yr == '2025'"}],"mark":{"type":"line","strokeWidth":3},
"encoding":{"x":{"field":"d","type":"temporal"},"y":{"field":"v","type":"quantitative"},"color":{"field":"yr","type":"nominal"}}}
]
},
{"width":225,"height":133,
"layer":[
{"data":{"name":"C"},"transform":[{"filter":"datum.s != 'PX华东基差'"}],"mark":{"type":"line","strokeWidth":1.5},
"encoding":{
"x":{"field":"d","type":"temporal","scale":{"type":"utc","domain":[{"year":2024,"month":7,"date":1,"utc":true},{"year":2025,"month":3,"date":13,"utc":true}]},
"axis":{"title":null,"tickCount":40,"values":[{"year":2024,"month":7,"date":1,"utc":true},{"year":2024,"month":8,"date":1,"utc":true},{"year":2024,"month":9,"date":1,"utc":true},{"year":2024,"month":10,"date":1,"utc":true},{"year":2024,"month":11,"date":1,"utc":true},{"year":2024,"month":12,"date":1,"utc":true},{"year":2025,"month":1,"date":1,"utc":true},{"year":2025,"month":2,"date":1,"utc":true},{"year":2025,"month":3,"date":1,"utc":true}],"format":"%b/%y","labelAngle":0,"labelFontSize":8,"tickSize":4,"labelPadding":2,"labelOverlap":false}},
"y":{"field":"v","type":"quantitative","scale":{"domain":[6000,10000],"nice":false,"zero":false},
"axis":{"title":null,"tickCount":40,"values":[6000,6500,7000,7500,8000,8500,9000,9500,10000],"format":"d","domain":false,"ticks":false,"grid":true,"gridColor":"#D9D9D9","labelPadding":7,"labelOverlap":false}},
"color":{"field":"s","type":"nominal","scale":{"domain":["PX华东现货价格","PX华东基差","PX活跃合约收盘价"],"range":["#C9A000","#5B9BD5","#F07C2A"]},
"legend":{"orient":"none","columns":2,"legendX":12,"legendY":-14,"title":null,"symbolSize":256,"columnPadding":18,"rowPadding":2,"labelFontSize":9.5,"labelFontWeight":"bold","labelColor":"#262626"}}
}},
{"layer":[
{"data":{"name":"C"},"transform":[{"filter":"datum.s == 'PX华东基差'"}],"mark":{"type":"line","strokeWidth":1.5},
"encoding":{"x":{"field":"d","type":"temporal"},
"y":{"field":"v","type":"quantitative","scale":{"domain":[-800,800],"nice":false,"zero":false},
"axis":{"orient":"right","title":null,"tickCount":40,"values":[-800,-600,-400,-200,0,200,400,600,800],"domain":false,"ticks":false,"labelPadding":8,"labelOverlap":false}},
"color":{"field":"s","type":"nominal"}}},
{"data":{"name":"C"},"transform":[{"filter":"datum.s == 'PX华东基差' && datum.v == -108"}],"mark":{"type":"text","align":"left","dx":8,"fontSize":8.5,"color":"#404040"},
"encoding":{"x":{"field":"d","type":"temporal"},"y":{"field":"v","type":"quantitative"},"text":{"field":"v","type":"quantitative"}}},
{"data":{"values":[{}]},"mark":{"type":"text","align":"center","fontSize":8.5,"color":"#404040"},
"encoding":{"x":{"datum":{"year":2025,"month":3,"date":8,"utc":true},"type":"temporal"},"y":{"datum":8},"text":{"value":"185"}}}
]}
],
"resolve":{"scale":{"y":"independent"}}
},
{"width":225,"height":129,
"title":{"text":"PX月差（5-9）","fontSize":12,"anchor":"middle","offset":2,"dy":5},
"layer":[
{"data":{"values":[{}]},"mark":{"type":"rule","color":"#A6A6A6","strokeWidth":1},"encoding":{"y":{"datum":0}}},
{"data":{"name":"D"},"transform":[{"filter":"datum.yr == '2024'"}],"mark":{"type":"line","strokeWidth":1.5},
"encoding":{
"x":{"field":"d","type":"temporal","scale":{"type":"utc","domain":[{"year":2000,"month":9,"date":15,"utc":true},{"year":2001,"month":5,"date":15,"utc":true}]},
"axis":{"title":null,"tickCount":40,"values":[{"year":2000,"month":9,"date":15,"utc":true},{"year":2000,"month":10,"date":15,"utc":true},{"year":2000,"month":11,"date":15,"utc":true},{"year":2000,"month":12,"date":15,"utc":true},{"year":2001,"month":1,"date":15,"utc":true},{"year":2001,"month":2,"date":15,"utc":true},{"year":2001,"month":3,"date":15,"utc":true},{"year":2001,"month":4,"date":15,"utc":true},{"year":2001,"month":5,"date":15,"utc":true}],"format":"%-m/%-d","labelAngle":0,"tickSize":3,"labelPadding":3,"labelOverlap":false}},
"y":{"field":"v","type":"quantitative","scale":{"domain":[-600,432],"nice":false,"zero":false},
"axis":{"title":null,"tickCount":40,"values":[-600,-400,-200,0,200,400],"tickSize":3,"labelPadding":3,"labelOverlap":false}},
"color":{"field":"yr","type":"nominal","scale":{"domain":["2022","2023","2024","2025"],"range":["#F79646","#3CB9EE","#7030A0","#FF0000"]},
"legend":{"orient":"none","direction":"horizontal","legendX":16,"legendY":141,"title":null,"symbolSize":324,"labelOffset":2,"columnPadding":4,"labelFontSize":8.5}}
}},
{"data":{"name":"D"},"transform":[{"filter":"datum.yr == '2025'"}],"mark":{"type":"line","strokeWidth":1.5},
"encoding":{"x":{"field":"d","type":"temporal"},"y":{"field":"v","type":"quantitative"},"color":{"field":"yr","type":"nominal"}}},
{"data":{"values":[{}]},"mark":{"type":"point","shape":"square","size":400,"filled":false,"stroke":"#6A9BD1","strokeWidth":2.5},
"encoding":{"x":{"datum":{"year":2001,"month":3,"date":4,"utc":true},"type":"temporal"},"y":{"datum":312}}},
{"data":{"values":[{}]},"mark":{"type":"point","shape":"circle","size":110,"filled":false,"stroke":"#E3B341","strokeWidth":2.5},
"encoding":{"x":{"datum":{"year":2001,"month":3,"date":5,"utc":true},"type":"temporal"},"y":{"datum":305}}},
{"data":{"values":[{}]},"mark":{"type":"text","align":"left","baseline":"middle","fontSize":15,"fontWeight":"bold","color":"#595959"},
"encoding":{"x":{"datum":{"year":2001,"month":3,"date":24,"utc":true},"type":"temporal"},"y":{"datum":336},"text":{"value":"大地期货"}}},
{"data":{"values":[{}]},"mark":{"type":"text","align":"left","baseline":"middle","fontSize":7.5,"fontWeight":"bold","color":"#595959"},
"encoding":{"x":{"datum":{"year":2001,"month":3,"date":24,"utc":true},"type":"temporal"},"y":{"datum":240},"text":{"value":"DADI FUTURES"}}}
]
}
],
"config":{
"font":"Liberation Sans, Noto Sans CJK SC, sans-serif",
"view":{"stroke":null},
"axis":{"labelFontSize":8.5,"labelColor":"#404040","titleFontSize":9,"titleFontWeight":"normal","titleColor":"#404040","domainColor":"#BFBFBF","tickColor":"#BFBFBF","grid":false,"labelOverlap":false,"labelFlush":false},
"legend":{"labelFontSize":8.5,"labelColor":"#404040","symbolType":"stroke","symbolStrokeWidth":2},
"title":{"fontSize":12.5,"fontWeight":"bold","color":"#000000"}
}
}
